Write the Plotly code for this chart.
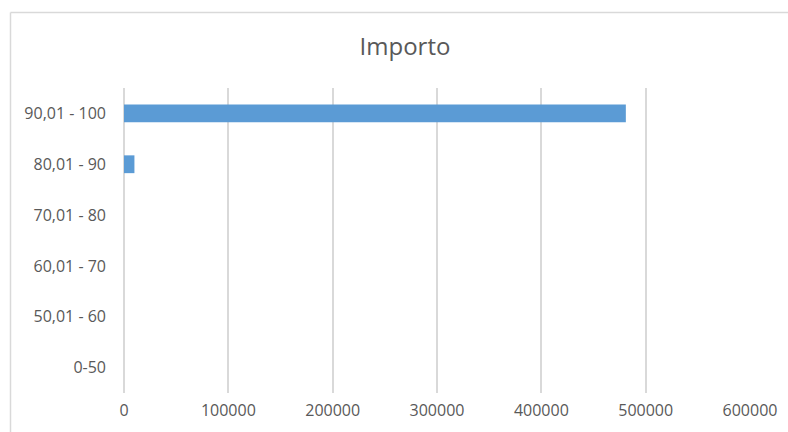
import plotly.graph_objects as go

categories = ["0-50", "50,01 - 60", "60,01 - 70", "70,01 - 80", "80,01 - 90", "90,01 - 100"]
values = [0, 0, 0, 0, 10000, 481000]
x_ticks = [0, 100000, 200000, 300000, 400000, 500000, 600000]

W, H = 788, 432
L, R, T, B = 124, 38, 88, 39
pw, ph = W - L - R, H - T - B

fig = go.Figure(go.Bar(
    x=values, y=categories, orientation="h",
    marker=dict(color="#5B9BD5", line=dict(width=0)),
))

def px_x(p):
    return (p - L) / pw

def px_y(p):
    return (H - B - p) / ph

border = dict(color="#D9D9D9", width=1.5)

fig.update_layout(
    width=W, height=H,
    margin=dict(l=L, r=R, t=T, b=B),
    paper_bgcolor="white", plot_bgcolor="white",
    font=dict(family="Open Sans, Calibri, sans-serif", size=16, color="#595959"),
    title=dict(text="Importo", x=405 / W, xanchor="center", xref="container",
               y=1 - 47 / H, yanchor="middle", yref="container",
               font=dict(size=24, color="#595959")),
    bargap=0.65,
    showlegend=False,
    xaxis=dict(range=[0, 600000], tickvals=x_ticks, ticktext=[str(v) for v in x_ticks],
               showgrid=True, gridcolor="#D9D9D9", gridwidth=1.5,
               zeroline=True, zerolinecolor="#D9D9D9", zerolinewidth=1.5,
               showline=False, ticks="", ticklabelstandoff=6, fixedrange=True),
    yaxis=dict(showgrid=False, zeroline=False, showline=False, ticks="",
               ticklabelstandoff=17, fixedrange=True),
    shapes=[
        dict(type="line", xref="paper", yref="paper",
             x0=px_x(10.5), x1=px_x(W + 5), y0=px_y(12.5), y1=px_y(12.5),
             line=border, layer="below"),
        dict(type="line", xref="paper", yref="paper",
             x0=px_x(10.5), x1=px_x(10.5), y0=px_y(12.5), y1=px_y(H + 5),
             line=border, layer="below"),
    ],
)

fig.write_html(
    "out.html",
    config={"displayModeBar": False},
    post_script="document.body.style.margin='0px';document.body.style.overflow='hidden';",
)
